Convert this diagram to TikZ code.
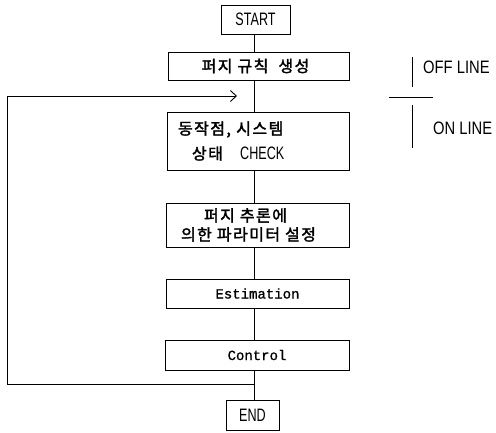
\documentclass[tikz,border=0pt]{standalone}
\usepackage{fontspec}
\usepackage{tikz}
\usetikzlibrary{arrows.meta,positioning}
\newfontfamily\hangul[LetterSpace=9,FakeBold=2]{Noto Sans CJK KR}
\newfontfamily\narrowsf[FakeStretch=0.7]{Liberation Sans}
\newfontfamily\widesf[FakeStretch=0.82]{Liberation Sans}
\newfontfamily\typew[FakeBold=1]{Liberation Mono}
\newcommand{\termfont}{\narrowsf\fontsize{18}{20}\selectfont}
\tikzset{
  stepbox/.style={draw, line width=0.9pt, minimum height=29pt, inner sep=0pt},
  termbox/.style={stepbox, font=\termfont},
  flow/.style={line width=0.9pt},
}

\begin{document}
\begin{tikzpicture}[x=1pt, y=-1pt, >=Stealth]
  \useasboundingbox (0,0) rectangle (496,433);
  %% Spine of the chart
  \coordinate (spine) at (254,0);

  %% Boxes
  \node[termbox, minimum width=69pt] (start) at (255.5,19.5) {START};
  \node[stepbox, minimum width=181pt, minimum height=28pt,
        font=\hangul\fontsize{16}{18}\selectfont] (rules) at (258.5,66)
    {퍼지 규칙\hspace{5pt} 생성\hspace*{6pt}};
  \node[stepbox, text width=160pt, inner xsep=11pt, minimum height=58pt,
        align=left, font=\hangul\fontsize{16}{25}\selectfont] (check) at (258,141)
    {동작점, 시스템\\\hspace*{14pt}상태\hspace{12pt} {\termfont CHECK}};
  \node[stepbox, minimum width=183pt, minimum height=44pt, align=center,
        font=\hangul\fontsize{16}{19}\selectfont] (param) at (257.5,225)
    {퍼지 추론에\hspace*{24pt}\\의한 파라미터 설정\hspace*{18pt}};
  \node[stepbox, minimum width=183pt, font=\typew\fontsize{14}{17}\selectfont]
    (estim) at (257.5,293.5) {Estimation};
  \node[stepbox, minimum width=184pt, minimum height=30pt,
        font=\typew\fontsize{14}{17}\selectfont]
    (control) at (257,355) {Control};
  \node[termbox, minimum width=53pt, minimum height=30pt] (end) at (252.5,415) {END};

  %% Straight connectors
  \draw[flow] (spine |- start.south) -- (spine |- rules.north);
  \draw[flow] (spine |- rules.south) -- (spine |- check.north);
  \draw[flow] (spine |- check.south) -- (spine |- param.north);
  \draw[flow] (spine |- param.south) -- (spine |- estim.north);
  \draw[flow] (spine |- estim.south) -- (spine |- control.north);
  \draw[flow] (spine |- control.south) -- (spine |- end.north);

  %% Feedback loop
  \coordinate (jn) at (254,384);
  \coordinate (lpbot) at (7,384);
  \coordinate (tip) at (237,96);
  \draw[flow, -{Straight Barb[length=6pt,width=11pt]}] (jn) -- (lpbot) |- (tip);

  %% OFF / ON LINE marks
  \draw[line width=0.8pt] (412,57) -- (412,87);
  \draw[line width=0.8pt] (389,97) -- (433,97);
  \draw[line width=0.8pt] (412,105) -- (412,148);
  \node[font=\widesf\fontsize{18}{20}\selectfont, anchor=west, inner xsep=0pt] (offl) at (423,67) {OFF LINE};
  \node[font=\widesf\fontsize{18}{20}\selectfont, anchor=west, inner xsep=0pt] (onl) at (433,128) {ON LINE};
\end{tikzpicture}
\end{document}
